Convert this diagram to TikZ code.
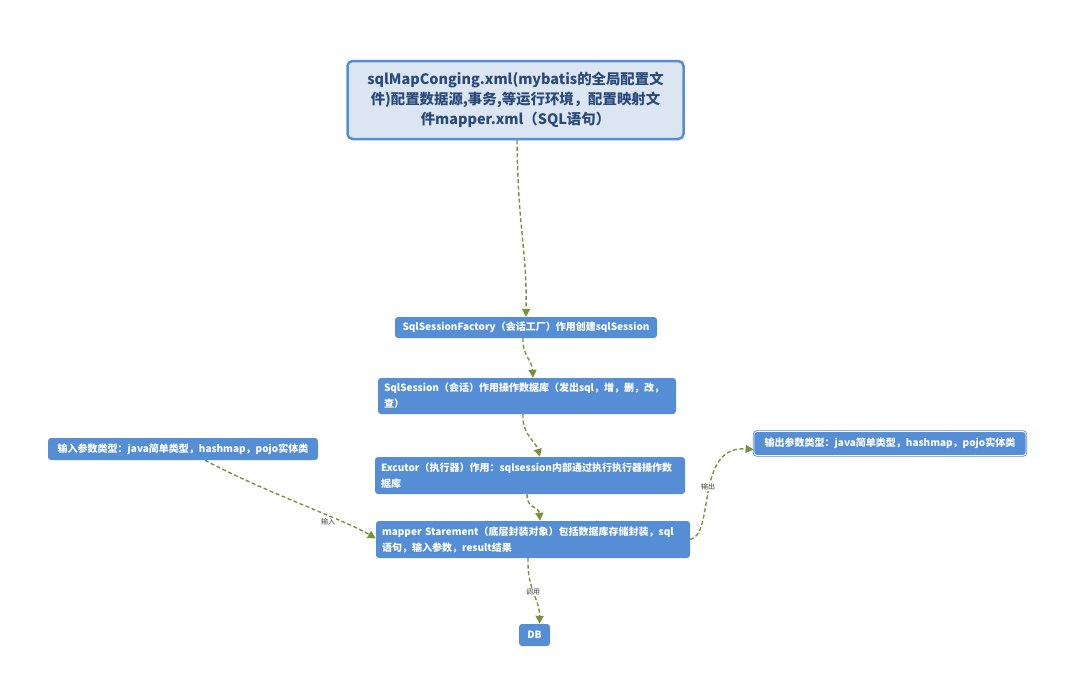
\documentclass[tikz,border=0pt]{standalone}
\usepackage{fontspec}
\usepackage{tikz}
\usetikzlibrary{arrows.meta}
\newfontfamily\cjk{Noto Sans CJK SC}
\definecolor{boxBlue}{HTML}{558ED5}
\definecolor{rootFill}{HTML}{DCE6F2}
\definecolor{rootText}{HTML}{2B4A7C}
\definecolor{linkGreen}{HTML}{77933C}
\definecolor{labelGray}{HTML}{404040}

\begin{document}
\begin{tikzpicture}[x=1pt,y=-1pt]

            \tikzstyle{rootNode} = [draw=boxBlue, line width=2.5pt, fill=rootFill, rounded corners=5pt,
                text=rootText, font=\cjk\bfseries\fontsize{14.4}{20}\selectfont, align=center,
                minimum width=336pt, minimum height=78pt, inner sep=0pt];
            \tikzstyle{stepNode} = [fill=boxBlue, rounded corners=3pt, text=white,
                font=\cjk\bfseries\fontsize{10}{16}\selectfont, align=left, inner xsep=6pt, inner ysep=3pt];
            \tikzstyle{link} = [draw=linkGreen, line width=1.4pt, dash pattern=on 4pt off 2.5pt,
                -{Triangle[width=8pt,length=8pt]}];
            \tikzstyle{linkLabel} = [font=\cjk\fontsize{7}{7}\selectfont, text=labelGray, fill=white, inner sep=0.5pt];

            \useasboundingbox (0,0) rectangle (1087,691);

            \node[rootNode] (config) at (515.5,100) {sqlMapConging.xml(mybatis的全局配置文\\件)配置数据源,事务,等运行环境，配置映射文\\件mapper.xml（SQL语句）};
            \node[stepNode, minimum width=262pt, minimum height=21pt, align=center] (factory) at (526,327.5) {SqlSessionFactory（会话工厂）作用创建sqlSession};
            \node[stepNode, text width=286pt, minimum height=36pt] (session) at (527,396) {SqlSession（会话）作用操作数据库（发出sql，增，删，改，\\查）};
            \node[stepNode, text width=298pt, minimum height=37pt] (executor) at (530,475.5) {Excutor（执行器）作用：sqlsession内部通过执行执行器操作数\\据库};
            \node[stepNode, text width=302pt, minimum height=37pt] (mapper) at (533,539.5) {mapper Starement（底层封装对象）包括数据库存储封装，sql\\语句，输入参数，result结果};
            \node[stepNode, minimum width=270pt, minimum height=22pt, align=center] (input) at (183,449) {输入参数类型：java简单类型，hashmap，pojo实体类};
            \node[stepNode, draw=boxBlue, double=white, double distance=0.8pt, line width=0.8pt,
                minimum width=272pt, minimum height=24pt, align=center] (output) at (890,443.5) {输出参数类型：java简单类型，hashmap，pojo实体类};
            \node[stepNode, minimum width=31pt, minimum height=22pt, inner xsep=2pt, align=center] (db) at (534.5,635) {DB};

            \draw[link] ([xshift=1.5pt]config.south) .. controls (518,230) and (527,250) .. (factory.north);
            \draw[link] ([xshift=-3pt]factory.south) .. controls (522,355) and (532,360) .. ([xshift=6pt]session.north);
            \draw[link] ([xshift=-4pt]session.south) .. controls (522,435) and (535,440) .. ([xshift=10pt]executor.north);
            \draw[link] ([xshift=-3pt]executor.south) .. controls (526,508) and (539,507) .. ([xshift=7pt]mapper.north);
            \draw[link] ([xshift=-5pt]mapper.south) .. controls (527,590) and (540,600) .. ([xshift=5pt]db.north);
            \draw[link] ([xshift=22pt]input.south) .. controls (260,490) and (345,520) .. ([yshift=1pt]mapper.west);
            \draw[link] (mapper.east) .. controls (715,535) and (695,445) .. ([yshift=-6pt]output.west);

            \node[linkLabel] (inLabel) at (328,522) {输入};
            \node[linkLabel] (outLabel) at (708,487) {输出};
            \node[linkLabel] (callLabel) at (533,592) {调用};
          \end{tikzpicture}
\end{document}
